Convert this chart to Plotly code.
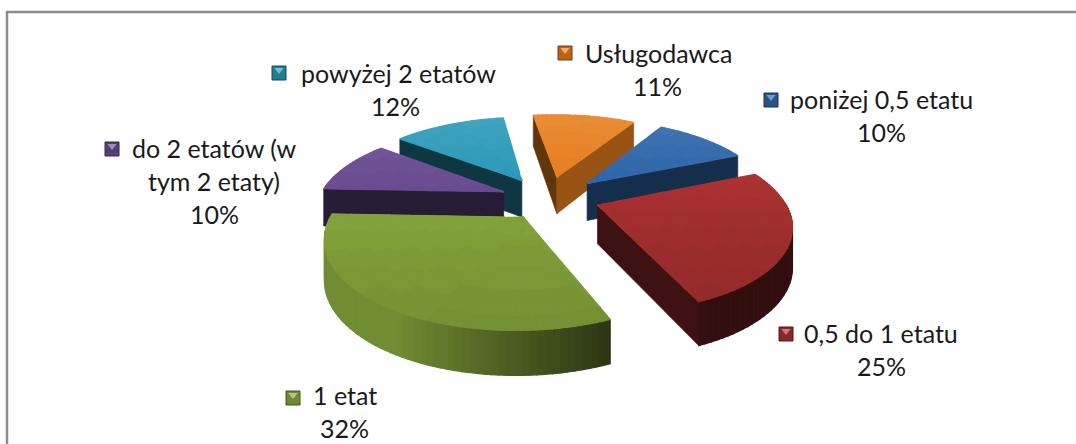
import math
import plotly.graph_objects as go

categories = ["poniżej 0,5 etatu", "0,5 do 1 etatu", "1 etat", "do 2 etatów (w|tym 2 etaty)", "powyżej 2 etatów", "Usługodawca"]
shares = [10, 25, 32, 10, 12, 11]
colors = ["#3068ab", "#ad3333", "#8bad3f", "#6d4e94", "#2c9ab9", "#e87f20"]
first_angle = 31.0
draw_order = [5, 4, 3, 0, 1, 2]
slice_dx = [0, 0, 0, -4, -7, -4]
slice_dy = [0, 0, 2, 2, 1, 0]
label_x = [881, 881, 345, 214, 398, 658]
label_y = [98.5, 332.5, 395, 147.5, 72.5, 52.5]
pct_x = [881, 881, 344, 214, 395, 657]
key_x = [771, 786, 293, 112, 279, 565]
key_y = [100, 334, 398, 149, 73, 53]
LINE_STEP = 33

CX, CY, RX, RY, K, DEPTH, EXPLODE = 552, 197, 185, 82, 0.2, 38, 0.26


def shade(c, f):
    r, g, b = int(c[1:3], 16), int(c[3:5], 16), int(c[5:7], 16)
    if f <= 1:
        r, g, b = r * f, g * f, b * f
    else:
        r, g, b = r + (255 - r) * (f - 1), g + (255 - g) * (f - 1), b + (255 - b) * (f - 1)
    return f"rgb({int(r)},{int(g)},{int(b)})"


def project(u, v, z=0.0, dx=0, dy=0):
    s = 1 / (1 + K * v)
    return CX + RX * u * s + dx, CY - RY * v * s + DEPTH * z * (1 - 0.15 * v) + dy


fig = go.Figure()


def flush(buckets, width=1.2):
    for col, polys in buckets.items():
        xs, ys = [], []
        for pts in polys:
            xs += [p[0] for p in pts] + [pts[0][0], None]
            ys += [p[1] for p in pts] + [pts[0][1], None]
        fig.add_trace(go.Scatter(x=xs, y=ys, mode="lines", fill="toself", fillcolor=col,
                                 line=dict(color=col, width=width), hoverinfo="skip", showlegend=False))


starts = []
a = first_angle
for s in shares:
    starts.append(a)
    a += s * 3.6

for i in draw_order:
    a0 = math.radians(starts[i])
    a1 = math.radians(starts[i] + shares[i] * 3.6)
    mid = (a0 + a1) / 2
    ex, ey = EXPLODE * math.sin(mid), EXPLODE * math.cos(mid)
    col = colors[i]
    dx, dy = slice_dx[i], slice_dy[i]
    n = max(8, int(shares[i] * 2))
    angs = [a0 + (a1 - a0) * k / n for k in range(n + 1)]
    edge = [(ex + math.sin(t), ey + math.cos(t)) for t in angs]

    def P(u, v, z=0.0):
        return project(u, v, z, dx, dy)

    # side faces of the wedge that look towards the viewer
    walls = {}
    if math.sin(a0) < 0:
        f = 0.36 + 0.3 * max(0, math.cos(2 * (a0 - math.radians(30))))
        walls.setdefault(shade(col, f), []).append([P(ex, ey), P(*edge[0]), P(*edge[0], 1), P(ex, ey, 1)])
    if math.sin(a1) > 0:
        f = 0.36 + 0.3 * max(0, math.cos(2 * (a1 - math.radians(30))))
        walls.setdefault(shade(col, f), []).append([P(ex, ey), P(*edge[-1]), P(*edge[-1], 1), P(ex, ey, 1)])
    flush(walls, 0.7)

    # outer rim wall, front half only
    rim = {}
    for k in range(n):
        t = (angs[k] + angs[k + 1]) / 2
        if math.cos(t) >= 0.02:
            continue
        f = max(0.3, min(0.82, 0.53 - 0.55 * math.sin(t)))
        f = round(f * 100) / 100
        rim.setdefault(shade(col, f), []).append([P(*edge[k]), P(*edge[k + 1]), P(*edge[k + 1], 1), P(*edge[k], 1)])
    flush(rim, 1.2)

    # top surface, darker towards the viewer
    top = {}
    rings = 10
    for k in range(n):
        for r in range(rings):
            q0, q1 = r / rings, (r + 1) / rings
            p = [(ex + (edge[k][0] - ex) * q0, ey + (edge[k][1] - ey) * q0),
                 (ex + (edge[k + 1][0] - ex) * q0, ey + (edge[k + 1][1] - ey) * q0),
                 (ex + (edge[k + 1][0] - ex) * q1, ey + (edge[k + 1][1] - ey) * q1),
                 (ex + (edge[k][0] - ex) * q1, ey + (edge[k][1] - ey) * q1)]
            v = sum(pt[1] for pt in p) / 4
            f = round((0.97 + 0.11 * v) * 50) / 50
            top.setdefault(shade(col, f), []).append([P(*pt) for pt in p])
    flush(top, 1.2)

# legend keys as markers
fig.add_trace(go.Scatter(x=key_x, y=key_y, mode="markers",
                         marker=dict(symbol="square", size=14, color=[shade(c, 0.8) for c in colors],
                                     line=dict(color=[shade(c, 0.5) for c in colors], width=1)),
                         hoverinfo="skip", showlegend=False))
fig.add_trace(go.Scatter(x=key_x, y=[y - 3 for y in key_y], mode="markers",
                         marker=dict(symbol="triangle-down", size=8, color=[shade(c, 1.35) for c in colors]),
                         hoverinfo="skip", showlegend=False))

text_font = dict(family="Lato", size=25, color="#1a1a1a")
for i, c in enumerate(categories):
    y = label_y[i]
    for ln in c.split("|"):
        fig.add_annotation(x=label_x[i], y=y, text=ln, showarrow=False, xanchor="center", yanchor="middle", font=text_font)
        y += LINE_STEP
    fig.add_annotation(x=pct_x[i], y=y, text=f"{shares[i]}%", showarrow=False, xanchor="center", yanchor="middle", font=text_font)

fig.add_shape(type="rect", x0=7, y0=12, x1=1100, y1=470, line=dict(color="#8c8c8c", width=2.5))

fig.update_layout(width=1076, height=444, margin=dict(l=0, r=0, t=0, b=0),
                  paper_bgcolor="white", plot_bgcolor="white", showlegend=False,
                  xaxis=dict(range=[0, 1076], visible=False, fixedrange=True),
                  yaxis=dict(range=[444, 0], visible=False, fixedrange=True))
fig.write_html("out.html", config={"displayModeBar": False},
               post_script="document.body.style.margin='0';document.body.style.overflow='hidden';")
